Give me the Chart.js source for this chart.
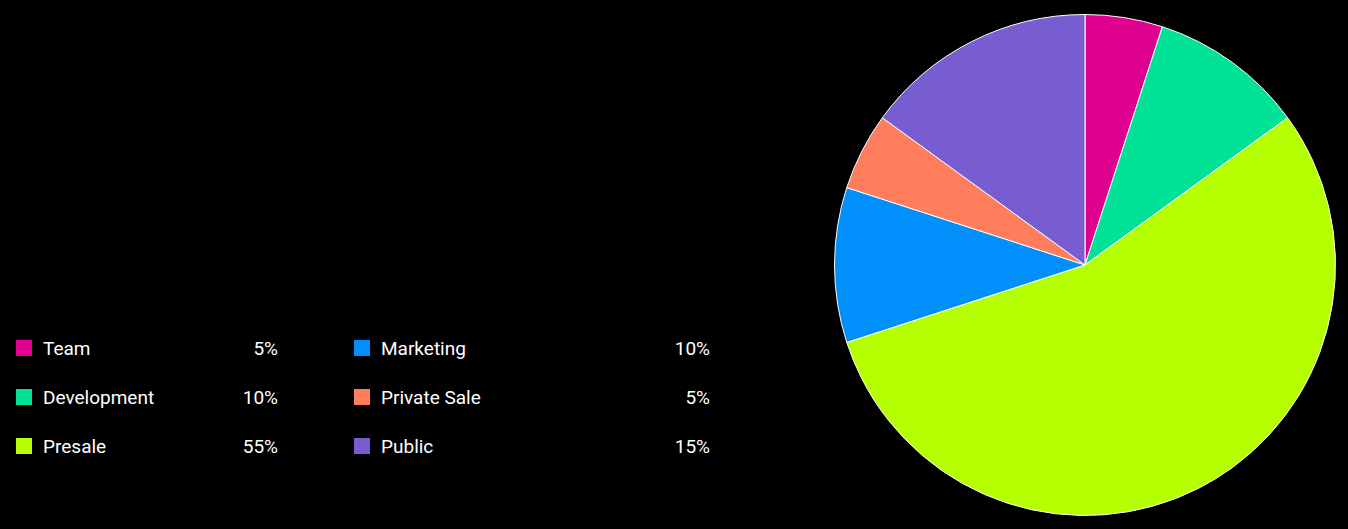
<!DOCTYPE html>
<html>
<head>
<meta charset="utf-8">
<script src="https://cdn.jsdelivr.net/npm/chart.js@4/dist/chart.umd.min.js"></script>
<style>
  html, body { margin: 0; padding: 0; background: #000; width: 1348px; height: 529px; overflow: hidden; font-family: Roboto, sans-serif; }
  #chart-box { position: absolute; left: 834px; top: 14px; width: 502px; height: 502px; }
  #legend { position: absolute; left: 16px; top: 334px; display: grid; grid-template-columns: 262px 356px; row-gap: 21px; column-gap: 76px; }
  .item { display: flex; align-items: center; height: 28px; color: #fff; font-size: 19px; }
  .swatch { width: 16px; height: 16px; margin-right: 11px; flex: none; }
  .label { flex: 1; }
  .pct { text-align: right; }
</style>
</head>
<body>
<div id="legend"></div>
<div id="chart-box"><canvas id="pie"></canvas></div>
<script>
const labels = ['Team', 'Development', 'Presale', 'Marketing', 'Private Sale', 'Public'];
const values = [5, 10, 55, 10, 5, 15];
const colors = ['#e0008f', '#00e396', '#b5ff00', '#008ffb', '#ff7c5c', '#775dd0'];

// legend: first column is items 0-2, second column 3-5
const legend = document.getElementById('legend');
const order = [0, 3, 1, 4, 2, 5];
order.forEach(i => {
  const div = document.createElement('div');
  div.className = 'item';
  div.innerHTML = `<span class="swatch" style="background:${colors[i]}"></span><span class="label">${labels[i]}</span><span class="pct">${values[i]}%</span>`;
  legend.appendChild(div);
});

new Chart(document.getElementById('pie').getContext('2d'), {
  type: 'pie',
  data: {
    labels,
    datasets: [{
      data: values,
      backgroundColor: colors,
      borderColor: '#fff',
      borderWidth: 1
    }]
  },
  options: {
    responsive: true,
    maintainAspectRatio: false,
    animation: false,
    plugins: {
      legend: { display: false },
      tooltip: { enabled: false }
    }
  }
});
</script>
</body>
</html>
